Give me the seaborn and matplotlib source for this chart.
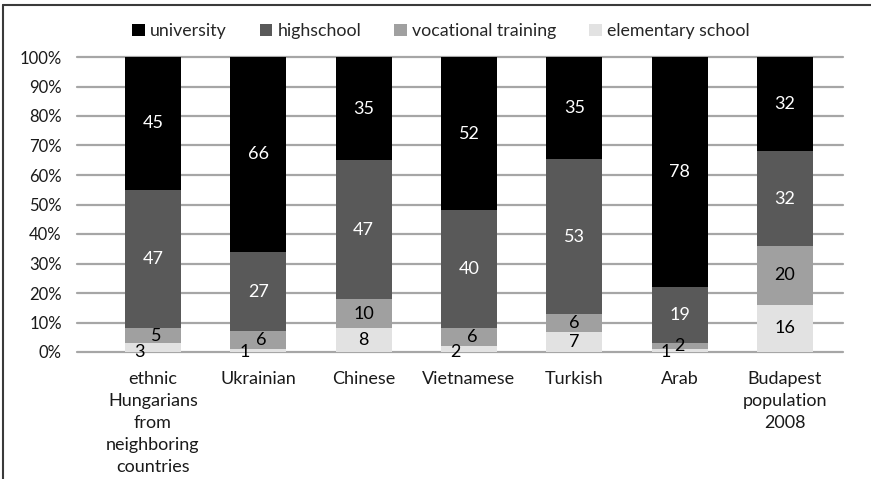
import numpy as np
import pandas as pd
import matplotlib
matplotlib.use("Agg")
import matplotlib.pyplot as plt
from matplotlib.lines import Line2D
from matplotlib.patches import Patch
import seaborn as sns

# Education level shares by group (percent)
groups = ["ethnic\nHungarians\nfrom\nneighboring\ncountries", "Ukrainian", "Chinese",
          "Vietnamese", "Turkish", "Arab", "Budapest\npopulation\n2008"]
elementary = [3, 1, 8, 2, 7, 1, 16]
vocational = [5, 6, 10, 6, 6, 2, 20]
highschool = [47, 27, 47, 40, 53, 19, 32]
university = [45, 66, 35, 52, 35, 78, 32]

levels = ["elementary school", "vocational training", "highschool", "university"]
colors = {"university": "#000000", "highschool": "#595959",
          "vocational training": "#a0a0a0", "elementary school": "#e2e2e2"}
text_colors = {"university": "white", "highschool": "white",
               "vocational training": "black", "elementary school": "black"}

vals = np.array([elementary, vocational, highschool, university], dtype=float)
shares = vals / vals.sum(axis=0)          # normalise each column to 100 %
cum = np.cumsum(shares, axis=0)

sns.set_style("white")
plt.rcParams["font.family"] = ["Lato", "DejaVu Sans"]

fig = plt.figure(figsize=(8.71, 4.79), dpi=100)
ax = fig.add_axes([77 / 871, 1 - 352 / 479, 766 / 871, 295 / 479])

for yv in np.arange(0, 1.01, 0.1):
    ax.axhline(yv, color="#a6a6a6", lw=1.6, zorder=0, clip_on=False)

x_labels = [str(i) for i in range(len(groups))]
# draw cumulative totals from the top segment down so each overlays the next
for i in range(len(levels) - 1, -1, -1):
    df = pd.DataFrame({"g": x_labels, "v": cum[i]})
    sns.barplot(data=df, x="g", y="v", color=colors[levels[i]], width=0.53,
                saturation=1, ax=ax, zorder=2, order=x_labels, linewidth=0,
                edgecolor="none")

for j in range(len(groups)):
    for i, lev in enumerate(levels):
        lo = cum[i - 1, j] if i > 0 else 0.0
        mid = (lo + cum[i, j]) / 2
        xpos = j
        if lev == "elementary school" and vals[i, j] <= 3:
            xpos = j - 0.13
            mid = 0.0
        elif lev == "vocational training" and vals[0, j] <= 3:
            xpos = j + 0.03 if vals[i, j] > 3 else j
        ax.text(xpos, mid, f"{int(vals[i, j])}", ha="center", va="center",
                fontsize=13, color=text_colors[lev], zorder=5)

ax.set_xlim(-0.72, 6.55)
ax.set_ylim(0, 1)
ax.set_yticks(np.arange(0, 1.01, 0.1))
ax.set_yticklabels([f"{int(round(t * 100))}%" for t in np.arange(0, 1.01, 0.1)],
                   fontsize=12, color="#1a1a1a")
ax.set_xticks(range(len(groups)))
ax.set_xticklabels(groups, fontsize=13, color="#1a1a1a", linespacing=1.45,
                   va="top")
ax.tick_params(axis="y", length=0, pad=11)
ax.tick_params(axis="x", length=0, pad=14)
ax.set_xlabel("")
ax.set_ylabel("")
for s in ax.spines.values():
    s.set_visible(False)

handles = [Patch(facecolor=colors[l], edgecolor="none") for l in
           ["university", "highschool", "vocational training", "elementary school"]]
fig.legend(handles, ["university", "highschool", "vocational training", "elementary school"],
           loc="center", bbox_to_anchor=(441 / 871, 1 - 31 / 479), ncol=4,
           frameon=False, fontsize=12.8, handlelength=0.7, handleheight=0.7,
           handletextpad=0.3, columnspacing=1.85)

# outer frame (top and left edges)
fig.add_artist(Line2D([3 / 871, 1], [1 - 4.5 / 479] * 2, color="#3a3a3a", lw=1.5,
                      transform=fig.transFigure))
fig.add_artist(Line2D([3 / 871] * 2, [0, 1 - 4.5 / 479], color="#3a3a3a", lw=1.5,
                      transform=fig.transFigure))

fig.savefig("out.png", dpi=100)
